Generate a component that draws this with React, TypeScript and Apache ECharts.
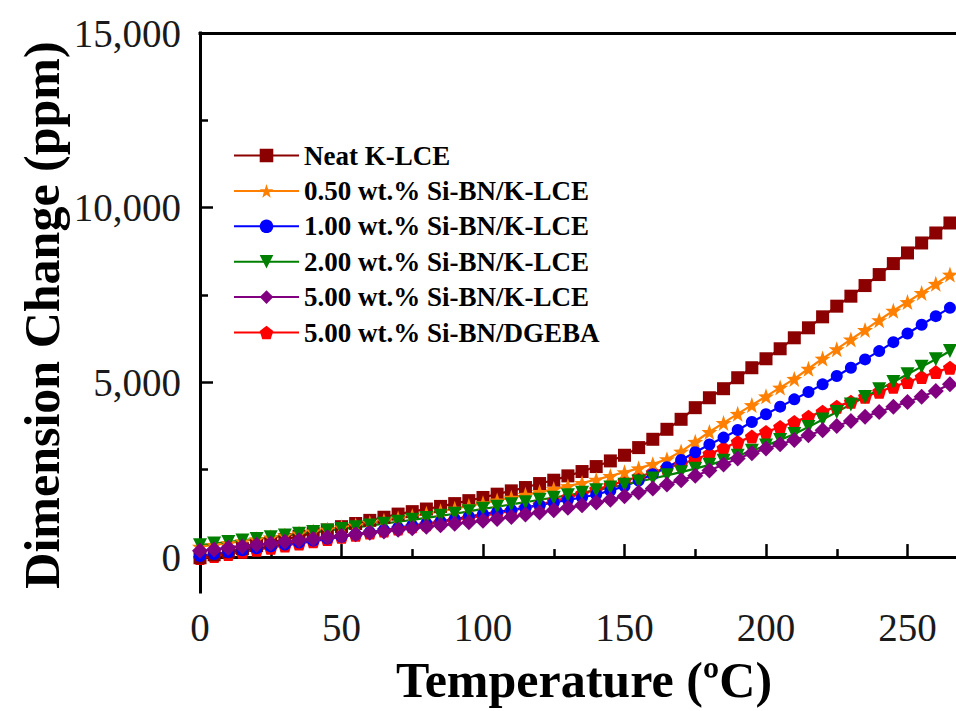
import React, { useEffect, useRef } from "react";
import * as echarts from "echarts";

const temperatures = [
  0, 5, 10, 15, 20, 25, 30, 35, 40, 45, 50, 55, 60, 65, 70, 75, 80, 85, 90, 95, 100,
  105, 110, 115, 120, 125, 130, 135, 140, 145, 150, 155, 160, 165, 170, 175, 180, 185,
  190, 195, 200, 205, 210, 215, 220, 225, 230, 235, 240, 245, 250, 255, 260, 265,
];

const neatKLCE = [
  -20, 65, 150, 240, 330, 415, 505, 595, 685, 775, 870, 960, 1050, 1140, 1230, 1300, 1375, 1450, 1530, 1615, 1706,
  1800, 1895, 1990, 2104, 2200, 2324, 2448, 2590, 2752, 2914, 3133, 3371, 3657, 3943, 4276, 4560, 4819, 5133, 5419,
  5676, 5962, 6276, 6562, 6876, 7181, 7467, 7771, 8086, 8400, 8705, 8990, 9276, 9562,
];

const siBN050 = [
  295, 350, 400, 455, 510, 565, 620, 675, 735, 790, 850, 910, 975, 1040, 1105, 1170, 1240, 1310, 1385, 1460, 1540,
  1620, 1700, 1780, 1860, 1945, 2030, 2120, 2215, 2320, 2430, 2540, 2660, 2800, 3020, 3300, 3580, 3840, 4100, 4350,
  4600, 4850, 5100, 5390, 5680, 5950, 6230, 6500, 6780, 7050, 7300, 7560, 7820, 8086,
];

const siBN100 = [
  30, 85, 140, 195, 250, 305, 360, 415, 470, 530, 590, 650, 710, 775, 840, 905, 960, 1020, 1090, 1160, 1230,
  1290, 1350, 1415, 1486, 1562, 1638, 1705, 1790, 1900, 2030, 2190, 2370, 2570, 2780, 3000, 3220, 3419, 3638, 3867,
  4086, 4305, 4514, 4724, 4943, 5181, 5419, 5657, 5895, 6152, 6400, 6648, 6895, 7133,
];

const siBN200 = [
  340, 385, 430, 475, 520, 565, 615, 665, 715, 760, 800, 850, 900, 955, 1010, 1065, 1120, 1180, 1240, 1310, 1380,
  1440, 1510, 1570, 1640, 1700, 1770, 1840, 1910, 1990, 2070, 2160, 2250, 2340, 2430, 2530, 2640, 2760, 2900, 3040,
  3190, 3350, 3520, 3720, 3940, 4150, 4370, 4580, 4800, 5010, 5230, 5450, 5660, 5900,
];

const siBN500 = [
  180, 220, 265, 305, 350, 390, 435, 480, 520, 565, 610, 650, 695, 735, 780, 825, 865, 910, 950, 995, 1038,
  1090, 1150, 1215, 1275, 1340, 1410, 1480, 1560, 1640, 1740, 1845, 1960, 2080, 2200, 2330, 2480, 2650, 2819, 2971,
  3105, 3229, 3352, 3486, 3629, 3752, 3895, 4019, 4152, 4305, 4438, 4590, 4752, 4943,
];

const siBN500DGEBA = [
  -30, 30, 90, 150, 210, 270, 330, 390, 450, 515, 580, 640, 700, 760, 820, 880, 940, 1000, 1060, 1120, 1181,
  1250, 1325, 1410, 1500, 1600, 1705, 1815, 1935, 2055, 2180, 2300, 2425, 2550, 2670, 2800, 2950, 3120, 3295, 3448,
  3581, 3724, 3867, 4019, 4162, 4305, 4448, 4590, 4733, 4876, 5010, 5152, 5295, 5419,
];

const seriesNames = [
  "Neat K-LCE",
  "0.50 wt.% Si-BN/K-LCE",
  "1.00 wt.% Si-BN/K-LCE",
  "2.00 wt.% Si-BN/K-LCE",
  "5.00 wt.% Si-BN/K-LCE",
  "5.00 wt.% Si-BN/DGEBA",
];

const xLabelTicks = [0, 50, 100, 150, 200, 250];
const yMajorTicks = [0, 5000, 10000, 15000];
const yMinorTicks = [2500, 7500, 12500];

const STAR =
  "path://M50 0L61.76 33.82L97.55 34.55L69.02 56.18L79.39 90.45L50 70L20.61 90.45L30.98 56.18L2.45 34.55L38.24 33.82Z";
const PENTAGON = "path://M50 0L97.55 34.55L79.39 90.45L20.61 90.45L2.45 34.55Z";
const TRI_DOWN = "path://M0 0L100 0L50 87Z";

const SERIF = "'Liberation Serif', 'Times New Roman', serif";

export default function App() {
  const ref = useRef<HTMLDivElement>(null);

  useEffect(() => {
    if (!ref.current) return;
    const chart = echarts.init(ref.current, null, { renderer: "svg" });

    const defs = [
      { name: seriesNames[5], data: siBN500DGEBA, color: "#FF0000", symbol: PENTAGON, size: 14 },
      { name: seriesNames[0], data: neatKLCE, color: "#8B0000", symbol: "rect", size: 13 },
      { name: seriesNames[1], data: siBN050, color: "#FF8000", symbol: STAR, size: 16 },
      { name: seriesNames[2], data: siBN100, color: "#0000FF", symbol: "circle", size: 12 },
      { name: seriesNames[3], data: siBN200, color: "#008000", symbol: TRI_DOWN, size: 14 },
      { name: seriesNames[4], data: siBN500, color: "#800080", symbol: "diamond", size: 16 },
    ];

    const series = defs.map((d) => ({
      name: d.name,
      type: "line",
      data: temperatures.map((t, i) => [t, d.data[i]]),
      symbol: d.symbol,
      symbolSize: d.size,
      showSymbol: true,
      lineStyle: { color: d.color, width: 2.2 },
      itemStyle: { color: d.color },
      clip: true,
    }));

    chart.setOption({
      animation: false,
      backgroundColor: "#fff",
      grid: {
        left: 200,
        top: 33,
        width: 849,
        height: 559,
        containLabel: false,
        outerBoundsMode: "none",
      },
      legend: {
        data: seriesNames,
        orient: "vertical",
        left: 233,
        top: 142,
        itemWidth: 65,
        itemHeight: 17,
        itemGap: 8.4,
        padding: 0,
        textStyle: {
          fontFamily: SERIF,
          fontWeight: "bold",
          fontSize: 27,
          lineHeight: 26,
          color: "#000",
        },
      },
      xAxis: [
        {
          type: "value",
          min: 0,
          max: 300,
          interval: 50,
          axisLine: { show: true, lineStyle: { color: "#000", width: 3, cap: "square" } },
          axisTick: { show: true, inside: true, length: 13, lineStyle: { color: "#000", width: 2.5 } },
          minorTick: { show: true, splitNumber: 2, length: 8, lineStyle: { color: "#000", width: 2.5 } },
          axisLabel: {
            fontFamily: SERIF,
            fontSize: 39,
            color: "#1a1a1a",
            margin: 16,
            customValues: xLabelTicks,
          },
          splitLine: { show: false },
        },
        {
          type: "value",
          position: "top",
          min: 0,
          max: 300,
          interval: 50,
          axisLine: { show: true, onZero: false, lineStyle: { color: "#000", width: 3, cap: "square" } },
          axisTick: { show: false },
          axisLabel: { show: false },
          splitLine: { show: false },
        },
      ],
      yAxis: [
        {
          type: "value",
          min: -1000,
          max: 15000,
          axisLine: { show: true, onZero: false, lineStyle: { color: "#000", width: 3, cap: "square" } },
          axisTick: {
            show: true,
            inside: true,
            length: 13,
            customValues: yMajorTicks,
            lineStyle: { color: "#000", width: 2.5 },
          },
          axisLabel: {
            fontFamily: SERIF,
            fontSize: 39,
            color: "#1a1a1a",
            margin: 19,
            customValues: yMajorTicks,
            formatter: (v: number) => v.toLocaleString("en-US"),
          },
          splitLine: { show: false },
        },
        {
          type: "value",
          position: "left",
          min: -1000,
          max: 15000,
          axisLine: { show: false },
          axisTick: {
            show: true,
            inside: true,
            length: 8,
            customValues: yMinorTicks,
            lineStyle: { color: "#000", width: 2.5 },
          },
          axisLabel: { show: false },
          splitLine: { show: false },
        },
      ],
      graphic: [
        {
          type: "text",
          x: 584,
          y: 680,
          style: {
            text: "Temperature (ºC)",
            font: `bold 50px ${SERIF}`,
            fill: "#000",
            textAlign: "center",
            textVerticalAlign: "middle",
          },
        },
        {
          type: "text",
          x: 42,
          y: 315,
          rotation: Math.PI / 2,
          style: {
            text: "Dimension Change (ppm)",
            font: `bold 50px ${SERIF}`,
            fill: "#000",
            textAlign: "center",
            textVerticalAlign: "middle",
          },
        },
      ],
      series,
    });

    return () => chart.dispose();
  }, []);

  return (
    <div
      ref={ref}
      style={{ position: "fixed", left: 0, top: 0, width: 956, height: 711, background: "#fff" }}
    />
  );
}
